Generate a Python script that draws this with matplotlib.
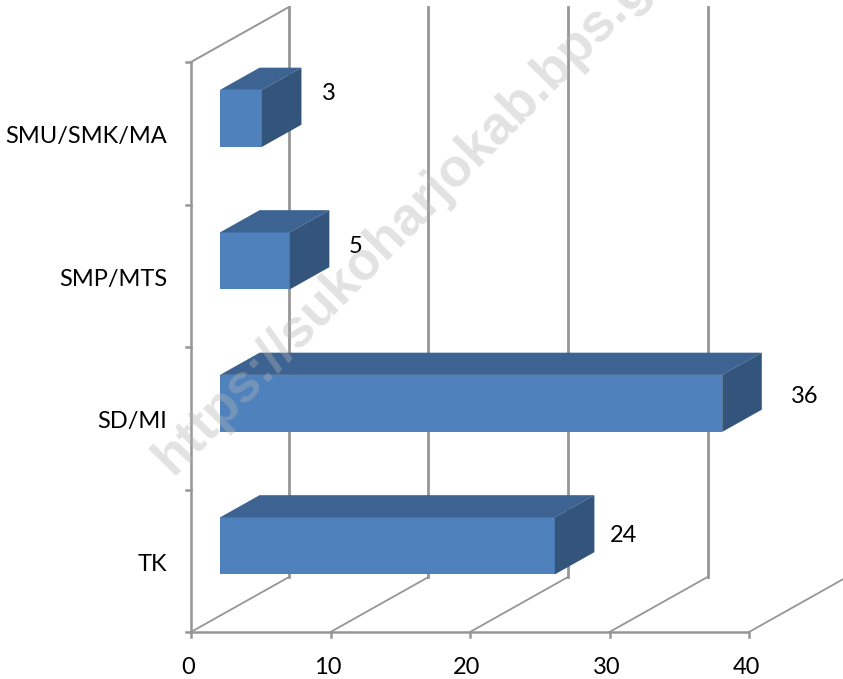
import numpy as np
import matplotlib
matplotlib.use('Agg')
import matplotlib.pyplot as plt
from matplotlib.patches import Polygon

categories = ['TK', 'SD/MI', 'SMP/MTS', 'SMU/SMK/MA']
values = [24, 36, 5, 3]
xticks = [0, 10, 20, 30, 40]

W, H = 843, 679
plt.rcParams['font.family'] = ['Lato', 'DejaVu Sans']

fig = plt.figure(figsize=(W / 100, H / 100), dpi=100)
ax = fig.add_axes([0, 0, 1, 1])

# scale of the front plane, in pixels
x0, y0 = 191, 632
px_x = 13.95
px_y = 142.5
ax.set_xlim(-x0 / px_x, (W - x0) / px_x)
ax.set_ylim(-(H - y0) / px_y, y0 / px_y)
ax.axis('off')

# depth of the floor going backwards
depth_dx = 98 / px_x
depth_dy = 55 / px_y


def proj(v, c, d):
    return v + d * depth_dx, c + d * depth_dy


grid = '#969696'
top = len(categories)

# walls and floor
ax.plot([0, 0], [0, top], color=grid, lw=1.8, solid_capstyle='butt')
ax.plot([0, 40], [0, 0], color=grid, lw=1.8, solid_capstyle='butt')
ax.plot(*zip(proj(0, top, 0), proj(0, top, 1)), color=grid, lw=1.4)
for v in xticks:
    ax.plot(*zip(proj(v, 0, 0), proj(v, 0, 1)), color=grid, lw=1.3)
    ax.plot([v, v], [0, -5 / px_y], color=grid, lw=1.8)
    if v < 40:
        ax.plot(*zip(proj(v, 0, 1), proj(v, top, 1)), color=grid, lw=2.0)
    ax.text(v - 3 / px_x, -35 / px_y, str(v), ha='center', va='center', fontsize=17, color='black')
for c in range(top + 1):
    ax.plot([-5 / px_x, 0], [c, c], color=grid, lw=1.8)

# bars
front = '#4f81bd'
upper = '#3c6391'
side = '#33547b'
d1, d2 = 0.296, 0.70
# label shift from the bar end, pixels
label_dx = [29, 43, 26, 27]
label_dy = [-13, -17, -9, 1]
for i, (name, val) in enumerate(zip(categories, values)):
    c1, c2 = i + 0.29, i + 0.69
    ax.add_patch(Polygon([proj(0, c1, d1), proj(val, c1, d1), proj(val, c2, d1), proj(0, c2, d1)],
                         fc=front, ec='none', zorder=3))
    ax.add_patch(Polygon([proj(0, c2, d1), proj(val, c2, d1), proj(val, c2, d2), proj(0, c2, d2)],
                         fc=upper, ec='none', zorder=3))
    ax.add_patch(Polygon([proj(val, c1, d1), proj(val, c2, d1), proj(val, c2, d2), proj(val, c1, d2)],
                         fc=side, ec='none', zorder=3))
    ax.text(-24 / px_x, i + 0.475, name, ha='right', va='center', fontsize=17, color='black')
    lx, ly = proj(val, i + 0.5, d2)
    ax.text(lx + label_dx[i] / px_x, ly + label_dy[i] / px_y, str(val), ha='center', va='center',
            fontsize=17, color='black', zorder=4)

# watermark
fig.text(172 / W, 1 - 476 / H, 'https://sukoharjokab.bps.go.id', rotation=45.5, rotation_mode='anchor',
         ha='left', va='baseline', fontsize=38.5, fontweight='bold', color='#b4b4b4', alpha=0.38,
         family=['Liberation Sans', 'DejaVu Sans'], zorder=10)

fig.savefig('out.png', dpi=100)
